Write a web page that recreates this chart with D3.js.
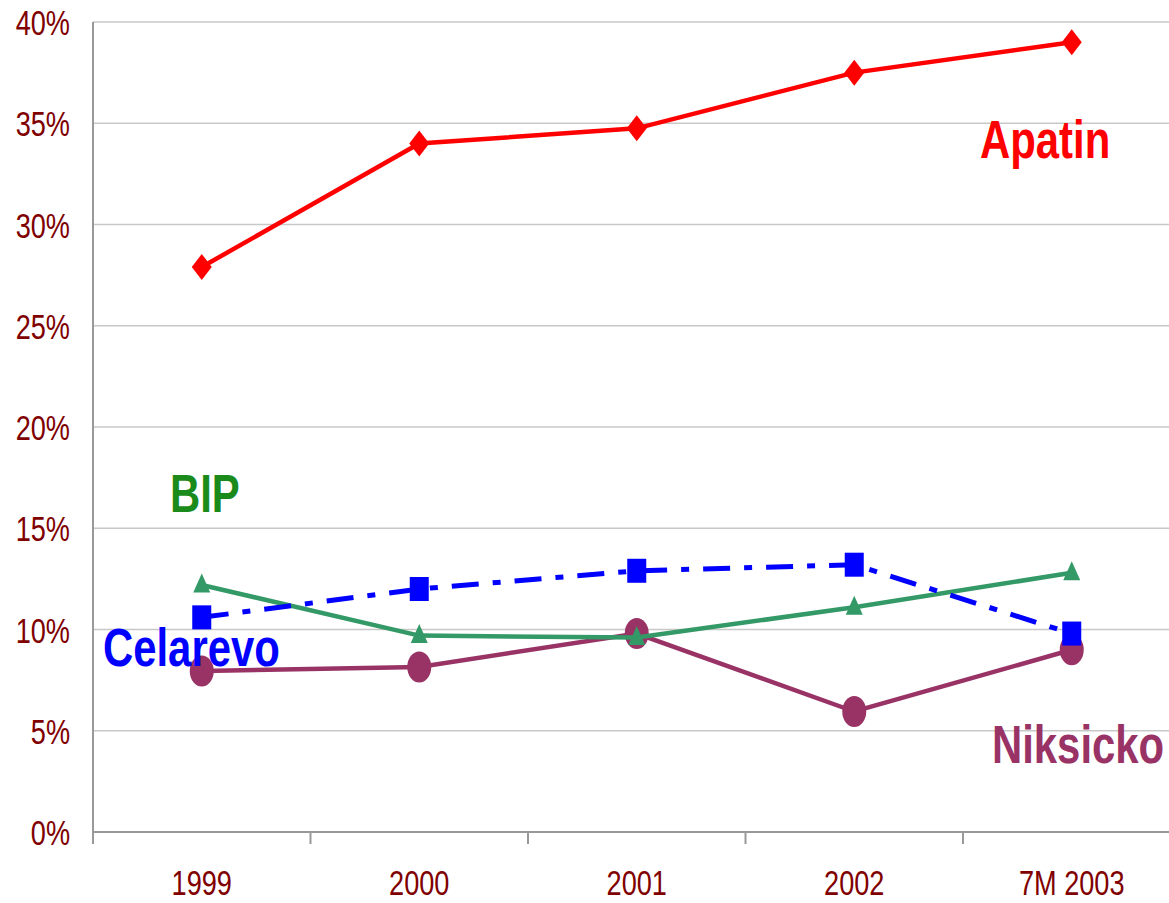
<!DOCTYPE html>
<html><head><meta charset="utf-8">
<script src="https://cdn.jsdelivr.net/npm/d3@7"></script>
<style>body{margin:0;background:#fff}svg{display:block}</style>
</head><body>
<svg id="c" width="1169" height="903"></svg>
<script>
const categories = ["1999","2000","2001","2002","7M 2003"];
const apatin   = [27.9, 34.0, 34.75, 37.5, 39.0];
const bip      = [12.2, 9.7, 9.6, 11.1, 12.8];
const celarevo = [10.6, 12.0, 12.9, 13.2, 9.8];
const niksicko = [7.95, 8.15, 9.8, 5.95, 9.0];
const yTicks = [0,5,10,15,20,25,30,35,40];

const svg = d3.select("#c");
const mLeft = 93, mTop = 22, mBottom = 832, mRight = 1180.5;
const font = "'Liberation Sans Narrow','Arial Narrow','Liberation Sans',Arial,sans-serif";
const tickColor = "#800000";
const narrow = 0.775;

function condense(sel, f) {
  sel.each(function(){
    const w = this.getComputedTextLength();
    d3.select(this).attr("textLength", w*f).attr("lengthAdjust","spacingAndGlyphs");
  });
}

const x = d3.scaleBand().domain(categories).range([mLeft, mRight]);
const y = d3.scaleLinear().domain([0,40]).range([mBottom, mTop]);

// gridlines
svg.append("g").selectAll("line").data(yTicks.filter(d=>d>0)).join("line")
  .attr("x1", mLeft).attr("x2", 1169).attr("y1", d=>y(d)).attr("y2", d=>y(d))
  .attr("stroke", "#c8c8c8").attr("stroke-width", 1.5);

// y axis
const yAxis = svg.append("g").attr("transform", `translate(${mLeft},0)`)
  .call(d3.axisLeft(y).tickValues(yTicks).tickSize(0).tickPadding(23).tickFormat(d=>d+"%"));
yAxis.select(".domain").attr("stroke","#999").attr("stroke-width",2).attr("d", `M0,${mTop}V${mBottom+12}`);
yAxis.selectAll("text").attr("font-family", font).attr("font-size", 35).attr("fill", tickColor).attr("dy","0.36em")
  .call(condense, narrow);

// x axis
const xAxis = svg.append("g").attr("transform", `translate(0,${mBottom})`)
  .call(d3.axisBottom(x).tickSize(0).tickPadding(38));
xAxis.select(".domain").attr("stroke","#999").attr("stroke-width",2).attr("d", `M${mLeft},0H1169`);
xAxis.selectAll("text").attr("font-family", font).attr("font-size", 35).attr("fill", tickColor).attr("dy","0.71em")
  .call(condense, narrow);
svg.append("g").selectAll("line").data(categories).join("line")
  .attr("x1", d=>x(d)).attr("x2", d=>x(d)).attr("y1", mBottom).attr("y2", mBottom+12)
  .attr("stroke","#999").attr("stroke-width",2);

const cx = d => x(d) + x.bandwidth()/2;
const line = d3.line().x((d,i)=>cx(categories[i])).y(d=>y(d));

// Niksicko
svg.append("path").datum(niksicko).attr("d", line).attr("fill","none").attr("stroke","#993366").attr("stroke-width",4.5);
svg.append("g").selectAll("ellipse").data(niksicko).join("ellipse")
  .attr("cx",(d,i)=>cx(categories[i])).attr("cy", d=>y(d)).attr("rx",12).attr("ry",15.5).attr("fill","#993366");

// BIP
svg.append("path").datum(bip).attr("d", line).attr("fill","none").attr("stroke","#339966").attr("stroke-width",4.5);
svg.append("g").selectAll("path").data(bip).join("path")
  .attr("d",(d,i)=>{const px=cx(categories[i]), py=y(d); return `M${px},${py-11.5}L${px+8.5},${py+7.5}L${px-8.5},${py+7.5}Z`;})
  .attr("fill","#339966");

// Celarevo
svg.append("path").datum(celarevo).attr("d", line).attr("fill","none").attr("stroke","#0000ff").attr("stroke-width",5)
  .attr("stroke-dasharray","27,14,8,14");
svg.append("g").selectAll("rect").data(celarevo).join("rect")
  .attr("x",(d,i)=>cx(categories[i])-9.5).attr("y", d=>y(d)-12).attr("width",19).attr("height",24).attr("fill","#0000ff");

// Apatin
svg.append("path").datum(apatin).attr("d", line).attr("fill","none").attr("stroke","#ff0000").attr("stroke-width",4.5);
svg.append("g").selectAll("path").data(apatin).join("path")
  .attr("d",(d,i)=>{const px=cx(categories[i]), py=y(d); return `M${px},${py-13}L${px+10},${py}L${px},${py+13}L${px-10},${py}Z`;})
  .attr("fill","#ff0000");

// series labels
const labels = [
  {t:"Apatin", x:980, y:158, c:"#ff0000"},
  {t:"BIP", x:170, y:512, c:"#1a8a1a"},
  {t:"Celarevo", x:103, y:666, c:"#0000ff"},
  {t:"Niksicko", x:992, y:763, c:"#993366"}
];
svg.append("g").selectAll("text").data(labels).join("text")
  .attr("x", d=>d.x).attr("y", d=>d.y).text(d=>d.t).attr("fill", d=>d.c)
  .attr("font-family", font).attr("font-weight","bold").attr("font-size", 54)
  .call(condense, narrow);
</script>
</body></html>
